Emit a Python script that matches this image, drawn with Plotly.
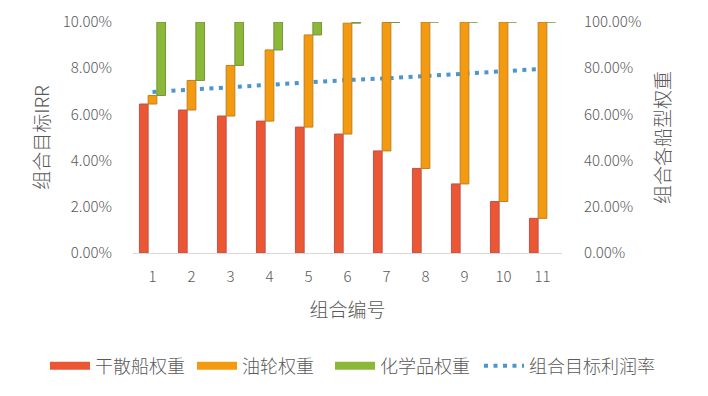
import plotly.graph_objects as go

combos = list(range(1, 12))
dry_bulk = [0.645, 0.619, 0.593, 0.571, 0.545, 0.515, 0.442, 0.366, 0.299, 0.223, 0.150]
tanker = [0.037, 0.128, 0.219, 0.308, 0.399, 0.480, 0.556, 0.634, 0.701, 0.777, 0.850]
chemical = [1 - d - t for d, t in zip(dry_bulk, tanker)]
irr = [0.0697, 0.0708, 0.0717, 0.0726, 0.0737, 0.0749, 0.0756, 0.0766, 0.0779, 0.0788, 0.0797]

series_names = ["干散船权重", "油轮权重", "化学品权重", "组合目标利润率"]

base_tanker = dry_bulk
base_chem = [d + t for d, t in zip(dry_bulk, tanker)]

FONT = "Noto Sans CJK SC, Noto Sans, sans-serif"
GREY = "#595959"
CLEAR = "rgba(0,0,0,0)"
COLORS = ["#ec5733", "#f49a10", "#8cb83a"]
EDGES = ["#c0504d", "#c0801a", "#77933c"]
LEGENDS = ["legend", "legend2", "legend3"]

fig = go.Figure()
for vals, base, name, col, edge, lg in zip([dry_bulk, tanker, chemical],
                                           [[0] * 11, base_tanker, base_chem],
                                           series_names[:3], COLORS, EDGES, LEGENDS):
    fig.add_trace(go.Bar(x=combos, y=vals, base=base, name=name, yaxis="y2",
                         legendgroup=name, showlegend=False,
                         marker=dict(color=col, line=dict(color=edge, width=1))))
    # legend-only entry drawn as a wide swatch
    fig.add_trace(go.Scatter(x=[None], y=[None], name=name, mode="lines", yaxis="y2",
                             legendgroup=name, legend=lg,
                             line=dict(color=col, width=8)))

fig.add_trace(go.Scatter(x=combos, y=irr, name=series_names[3], mode="lines", yaxis="y",
                         legend="legend4",
                         line=dict(color="#4a96cd", width=4, dash="4px,5.5px")))

leg_common = dict(orientation="h", y=-0.489, yanchor="middle", xanchor="left",
                  itemwidth=40,
                  font=dict(size=18, color=GREY, weight=300), bgcolor=CLEAR)

fig.update_layout(
    width=700, height=388,
    margin=dict(l=125, r=146, t=14, b=143),
    paper_bgcolor="white", plot_bgcolor="white",
    font=dict(family=FONT, color=GREY, size=15, weight=300),
    barmode="group", bargap=0.33, bargroupgap=0,
    showlegend=True,
    legend=dict(x=-0.2051, **leg_common),
    legend2=dict(x=0.1375, **leg_common),
    legend3=dict(x=0.4592, **leg_common),
    legend4=dict(x=0.8065, **leg_common),
    xaxis=dict(range=[0.5, 11.5], tickvals=combos, ticktext=[str(c) for c in combos],
               showline=True, linecolor="#d9d9d9", linewidth=1, showgrid=False,
               ticks="outside", ticklen=10, tickcolor=CLEAR,
               tickfont=dict(size=15, color=GREY, weight=300), automargin=False,
               title=dict(text="组合编号", font=dict(size=19, color=GREY, weight=300), standoff=18)),
    yaxis=dict(range=[0, 0.1], tickvals=[0, 0.02, 0.04, 0.06, 0.08, 0.10],
               tickformat=".2%", showgrid=False, zeroline=False,
               ticks="outside", ticklen=17, tickcolor=CLEAR,
               tickfont=dict(size=15, color=GREY, weight=300), automargin=False,
               title=dict(text="组合目标IRR", font=dict(size=19, color=GREY, weight=300), standoff=8)),
    yaxis2=dict(range=[0, 1], tickvals=[0, 0.2, 0.4, 0.6, 0.8, 1.0],
                tickformat=".2%", overlaying="y", side="right", showgrid=False,
                zeroline=False, ticks="outside", ticklen=18, tickcolor=CLEAR,
                tickfont=dict(size=15, color=GREY, weight=300), automargin=False,
                title=dict(text="组合各船型权重", font=dict(size=19, color=GREY, weight=300), standoff=16)),
)

fig.write_html("out.html")
